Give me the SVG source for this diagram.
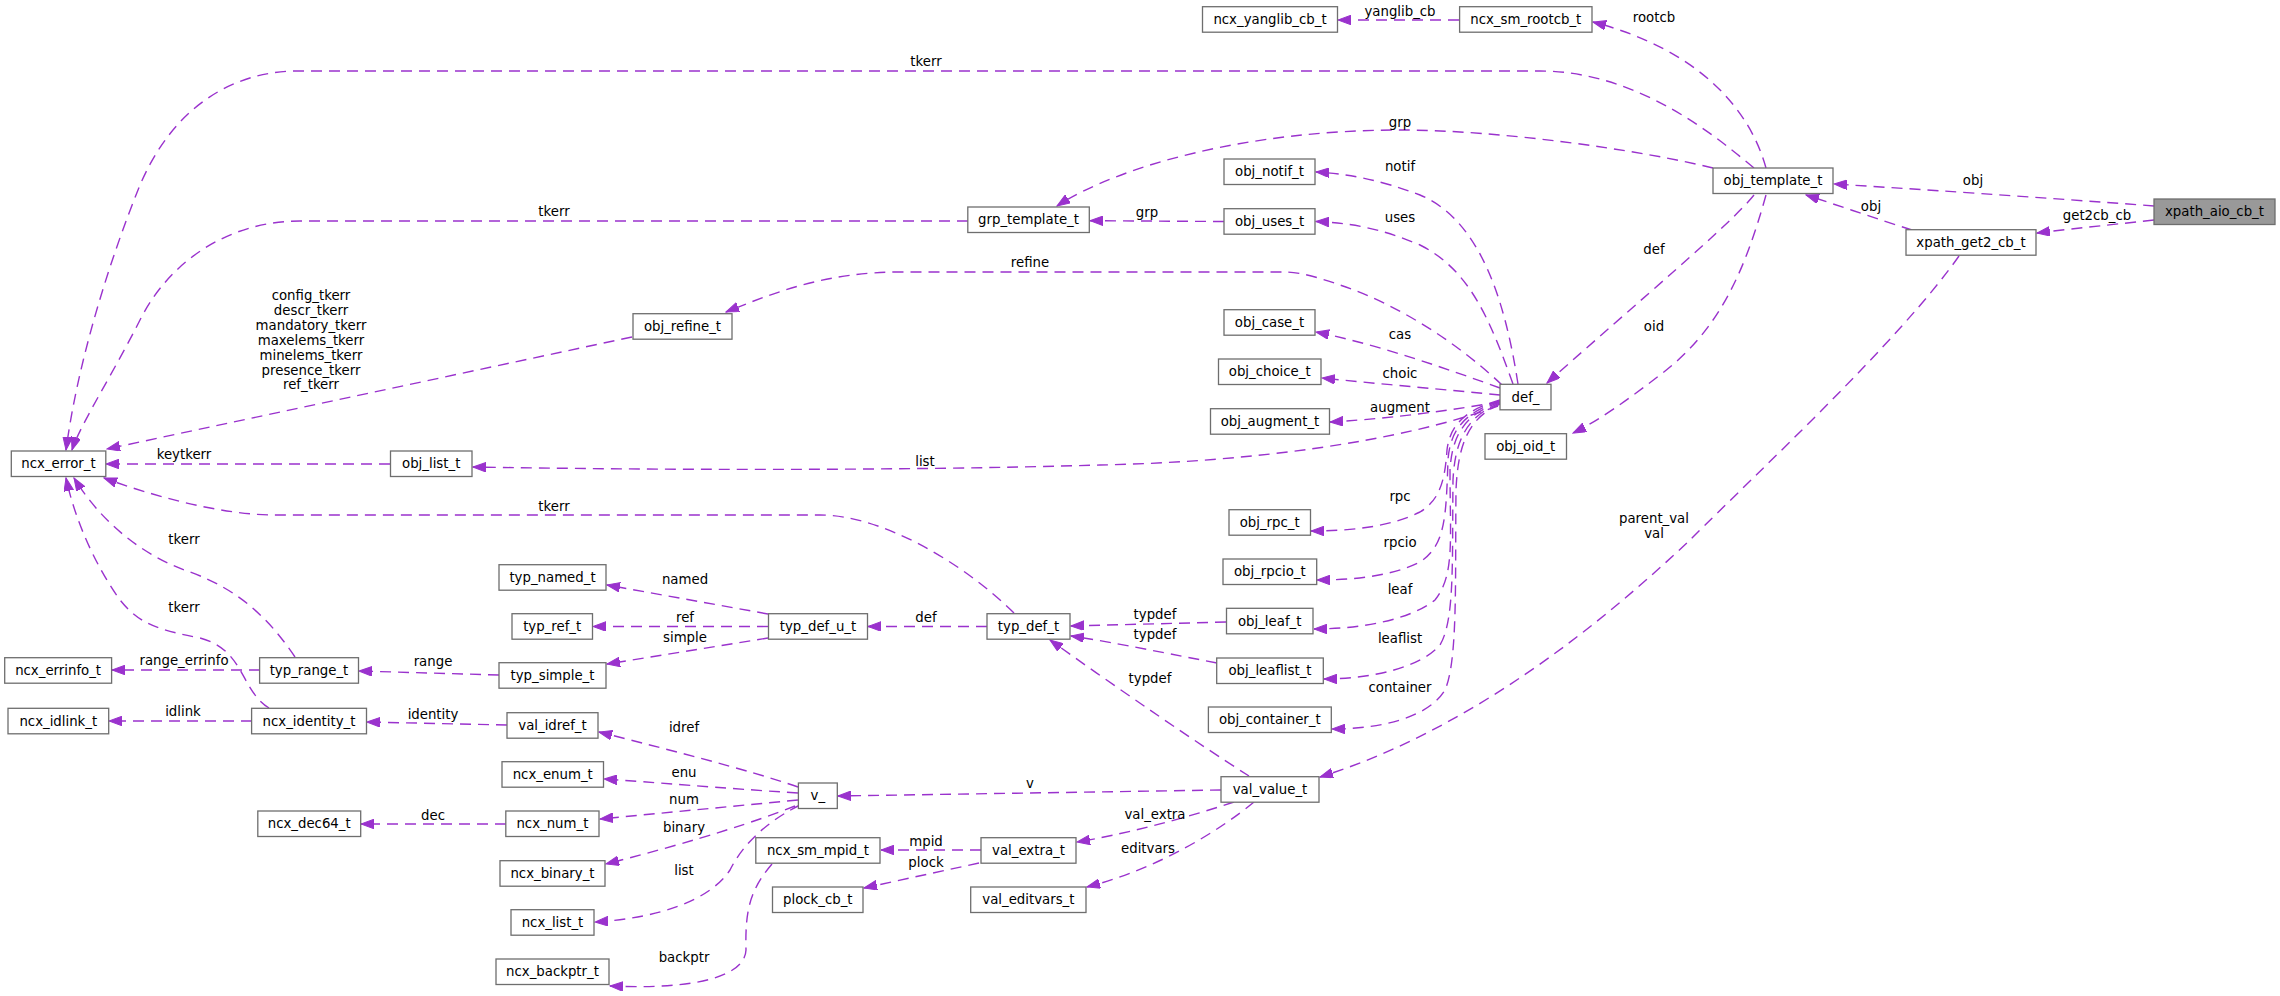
<svg xmlns="http://www.w3.org/2000/svg" width="2280" height="996" viewBox="0 0 2280 996">
<style>
.n rect{fill:#ffffff;stroke:#6e6e6e;stroke-width:1.3}
.root rect{fill:#999999}
.n text,.lb{font-family:"DejaVu Sans","Liberation Sans",sans-serif;font-size:13.3px;fill:#000000;text-anchor:middle}
.e path{fill:none;stroke:#9a32cd;stroke-width:1.4;stroke-dasharray:11,7;marker-end:url(#ah)}
</style>
<defs>
<marker id="ah" markerUnits="userSpaceOnUse" markerWidth="14" markerHeight="10" refX="13" refY="4.8" orient="auto">
<path d="M0,0 L13,4.8 L0,9.6 z" fill="#9a32cd" stroke="#9a32cd" stroke-width="1"/>
</marker>
</defs>
<rect width="2280" height="996" fill="#ffffff"/>
<g id="connectors" class="e">
<path d="M2154,206 C2050,198 1900,188 1834,184"/>
<path d="M2154,220 C2100,226 2060,230 2037,233"/>
<path d="M1912,230 C1880,220 1840,206 1806,195"/>
<path d="M1959,256 C1900,340 1760,470 1690,540 C1600,625 1470,730 1320,777"/>
<path d="M1766,168 C1750,110 1700,50 1593,22"/>
<path d="M1754,168 C1720,140 1640,71 1540,71 L298,71 C230,71 170,110 138,190 C110,260 78,360 66,450"/>
<path d="M1713,168 C1640,150 1500,130 1400,130 C1250,130 1120,165 1057,206"/>
<path d="M968,221 L300,221 C230,221 170,260 140,320 C115,370 80,425 72,450"/>
<path d="M1014,613 C960,560 880,515 820,515 L275,515 C220,515 150,495 104,478"/>
<path d="M295,657 C270,620 240,590 190,572 C140,555 100,520 74,478"/>
<path d="M269,708 C240,690 245,650 200,638 C160,630 140,625 120,600 C95,565 75,520 66,478"/>
<path d="M260,670 L112,670"/>
<path d="M499,675 L359,671"/>
<path d="M252,721 L109,721"/>
<path d="M507,725 L367,722"/>
<path d="M506,824 L361,824"/>
<path d="M390,464 L106,464"/>
<path d="M632,337 L107,449"/>
<path d="M1498,406 C1400,442 1250,462 1100,465 C900,471 650,470 473,467"/>
<path d="M768,614 L607,585"/>
<path d="M768,626.5 L593,626.5"/>
<path d="M768,638 L607,664"/>
<path d="M987,626.5 L868,626.5"/>
<path d="M1226,622 L1071,626"/>
<path d="M1217,663 C1150,650 1100,640 1071,636"/>
<path d="M1249,776 C1200,745 1120,690 1050,640"/>
<path d="M1221,790 L838,796"/>
<path d="M1234,802 C1180,820 1120,835 1077,842"/>
<path d="M1254,802 C1220,830 1160,868 1087,887"/>
<path d="M981,850 L881,850"/>
<path d="M979,863 L864,888"/>
<path d="M798,787 C750,770 650,745 599,732"/>
<path d="M798,793 C720,788 650,782 604,779"/>
<path d="M798,800 L600,819"/>
<path d="M795,806 C760,820 700,840 606,864"/>
<path d="M800,805 C760,825 740,850 730,870 C710,900 660,918 595,922"/>
<path d="M772,864 C750,890 745,910 746,950 C745,975 700,990 610,986"/>
<path d="M1459,20 L1338,20"/>
<path d="M1224,221.5 L1090,220.7"/>
<path d="M1518,384 C1505,300 1480,220 1420,195 C1380,180 1350,174 1316,172"/>
<path d="M1513,384 C1490,320 1470,270 1420,245 C1380,228 1350,223 1316,221.5"/>
<path d="M1502,385 C1460,345 1400,305 1340,285 C1320,278 1300,272 1285,272 L900,272 C830,272 780,290 726,312"/>
<path d="M1500,388 C1450,370 1380,345 1316,332"/>
<path d="M1500,395 C1450,390 1380,384 1322,378"/>
<path d="M1500,402 C1450,410 1400,418 1330,422"/>
<path d="M1500,400 C1465,410 1450,425 1447,450 C1445,480 1440,500 1420,512 C1390,527 1350,531 1311,531"/>
<path d="M1500,401 C1465,412 1450,430 1448,460 C1446,520 1445,545 1420,562 C1390,577 1350,580 1317,580"/>
<path d="M1500,402 C1465,414 1452,435 1450,470 C1450,540 1455,575 1435,600 C1410,620 1360,629 1314,629"/>
<path d="M1500,403 C1467,416 1455,440 1453,480 C1452,560 1455,620 1440,645 C1420,668 1370,679 1324,679"/>
<path d="M1500,404 C1468,418 1458,445 1456,490 C1455,580 1458,660 1445,690 C1428,718 1380,729 1332,729"/>
<path d="M1754,195 C1730,225 1640,300 1547,383"/>
<path d="M1766,195 C1745,270 1720,330 1660,375 C1630,398 1600,420 1573,433"/>
</g>
<g id="labels">
<text class="lb" x="1973" y="185">obj</text>
<text class="lb" x="2097" y="220">get2cb_cb</text>
<text class="lb" x="1871" y="211">obj</text>
<text class="lb" x="1654" y="523">parent_val</text>
<text class="lb" x="1654" y="538">val</text>
<text class="lb" x="1654" y="22">rootcb</text>
<text class="lb" x="926" y="66">tkerr</text>
<text class="lb" x="1400" y="127">grp</text>
<text class="lb" x="554" y="216">tkerr</text>
<text class="lb" x="554" y="511">tkerr</text>
<text class="lb" x="184" y="544">tkerr</text>
<text class="lb" x="184" y="612">tkerr</text>
<text class="lb" x="184" y="665">range_errinfo</text>
<text class="lb" x="433" y="666">range</text>
<text class="lb" x="183" y="716">idlink</text>
<text class="lb" x="433" y="719">identity</text>
<text class="lb" x="433" y="820">dec</text>
<text class="lb" x="184" y="459">keytkerr</text>
<text class="lb" x="311" y="300">config_tkerr</text>
<text class="lb" x="311" y="315">descr_tkerr</text>
<text class="lb" x="311" y="330">mandatory_tkerr</text>
<text class="lb" x="311" y="344.5">maxelems_tkerr</text>
<text class="lb" x="311" y="359.5">minelems_tkerr</text>
<text class="lb" x="311" y="374.5">presence_tkerr</text>
<text class="lb" x="311" y="388.5">ref_tkerr</text>
<text class="lb" x="925" y="466">list</text>
<text class="lb" x="685" y="584">named</text>
<text class="lb" x="685" y="622">ref</text>
<text class="lb" x="685" y="642">simple</text>
<text class="lb" x="926" y="622">def</text>
<text class="lb" x="1155" y="619">typdef</text>
<text class="lb" x="1155" y="639">typdef</text>
<text class="lb" x="1150" y="683">typdef</text>
<text class="lb" x="1030" y="788">v</text>
<text class="lb" x="1155" y="819">val_extra</text>
<text class="lb" x="1148" y="853">editvars</text>
<text class="lb" x="926" y="846">mpid</text>
<text class="lb" x="926" y="867">plock</text>
<text class="lb" x="684" y="732">idref</text>
<text class="lb" x="684" y="777">enu</text>
<text class="lb" x="684" y="804">num</text>
<text class="lb" x="684" y="832">binary</text>
<text class="lb" x="684" y="875">list</text>
<text class="lb" x="684" y="962">backptr</text>
<text class="lb" x="1400" y="16">yanglib_cb</text>
<text class="lb" x="1147" y="217">grp</text>
<text class="lb" x="1400" y="171">notif</text>
<text class="lb" x="1400" y="222">uses</text>
<text class="lb" x="1030" y="267">refine</text>
<text class="lb" x="1400" y="339">cas</text>
<text class="lb" x="1400" y="378">choic</text>
<text class="lb" x="1400" y="412">augment</text>
<text class="lb" x="1400" y="501">rpc</text>
<text class="lb" x="1400" y="547">rpcio</text>
<text class="lb" x="1400" y="594">leaf</text>
<text class="lb" x="1400" y="643">leaflist</text>
<text class="lb" x="1400" y="692">container</text>
<text class="lb" x="1654" y="254">def</text>
<text class="lb" x="1654" y="331">oid</text>
</g>
<g id="xpath_aio_cb_t" class="n root"><rect x="2154" y="199" width="121" height="25.5"/><text x="2214.5" y="216.4">xpath_aio_cb_t</text></g>
<g id="obj_template_t" class="n"><rect x="1713" y="168" width="120" height="25.5"/><text x="1773" y="185.4">obj_template_t</text></g>
<g id="xpath_get2_cb_t" class="n"><rect x="1906" y="229.7" width="130" height="25.5"/><text x="1971" y="247.2">xpath_get2_cb_t</text></g>
<g id="ncx_yanglib_cb_t" class="n"><rect x="1202.5" y="6.7" width="135" height="25.5"/><text x="1270" y="24.2">ncx_yanglib_cb_t</text></g>
<g id="ncx_sm_rootcb_t" class="n"><rect x="1459.6" y="6.7" width="132.4" height="25.5"/><text x="1525.8" y="24.2">ncx_sm_rootcb_t</text></g>
<g id="grp_template_t" class="n"><rect x="967.8" y="207" width="121.5" height="25.5"/><text x="1028.5" y="224.4">grp_template_t</text></g>
<g id="obj_notif_t" class="n"><rect x="1224" y="159" width="91" height="25.5"/><text x="1269.5" y="176.4">obj_notif_t</text></g>
<g id="obj_uses_t" class="n"><rect x="1224" y="208.7" width="91" height="25.5"/><text x="1269.5" y="226.2">obj_uses_t</text></g>
<g id="obj_refine_t" class="n"><rect x="633" y="313.7" width="99" height="25.5"/><text x="682.5" y="331.2">obj_refine_t</text></g>
<g id="obj_case_t" class="n"><rect x="1224" y="309.7" width="91" height="25.5"/><text x="1269.5" y="327.2">obj_case_t</text></g>
<g id="obj_choice_t" class="n"><rect x="1218.5" y="359" width="102.5" height="25.5"/><text x="1269.7" y="376.4">obj_choice_t</text></g>
<g id="def_" class="n"><rect x="1500" y="384.3" width="51" height="25.5"/><text x="1525.5" y="401.7">def_</text></g>
<g id="obj_augment_t" class="n"><rect x="1210.5" y="408.7" width="119" height="25.5"/><text x="1270" y="426.2">obj_augment_t</text></g>
<g id="obj_oid_t" class="n"><rect x="1485" y="433.7" width="81.5" height="25.5"/><text x="1525.7" y="451.2">obj_oid_t</text></g>
<g id="ncx_error_t" class="n"><rect x="11.3" y="451" width="94.5" height="25.5"/><text x="58.5" y="468.4">ncx_error_t</text></g>
<g id="obj_list_t" class="n"><rect x="390.5" y="451" width="81.5" height="25.5"/><text x="431.2" y="468.4">obj_list_t</text></g>
<g id="obj_rpc_t" class="n"><rect x="1229" y="509.7" width="81.5" height="25.5"/><text x="1269.7" y="527.2">obj_rpc_t</text></g>
<g id="obj_rpcio_t" class="n"><rect x="1223" y="559" width="93.7" height="25.5"/><text x="1269.8" y="576.4">obj_rpcio_t</text></g>
<g id="typ_named_t" class="n"><rect x="499" y="564.7" width="107" height="25.5"/><text x="552.5" y="582.2">typ_named_t</text></g>
<g id="typ_ref_t" class="n"><rect x="512" y="613.7" width="80.5" height="25.5"/><text x="552.2" y="631.2">typ_ref_t</text></g>
<g id="typ_def_u_t" class="n"><rect x="768.5" y="613.7" width="99" height="25.5"/><text x="818" y="631.2">typ_def_u_t</text></g>
<g id="typ_def_t" class="n"><rect x="987" y="613.7" width="83" height="25.5"/><text x="1028.5" y="631.2">typ_def_t</text></g>
<g id="obj_leaf_t" class="n"><rect x="1226.5" y="608.3" width="86.5" height="25.5"/><text x="1269.7" y="625.7">obj_leaf_t</text></g>
<g id="ncx_errinfo_t" class="n"><rect x="4.7" y="657.7" width="106.9" height="25.5"/><text x="58.1" y="675.2">ncx_errinfo_t</text></g>
<g id="typ_range_t" class="n"><rect x="259.6" y="657.7" width="98.9" height="25.5"/><text x="309" y="675.2">typ_range_t</text></g>
<g id="typ_simple_t" class="n"><rect x="499" y="662.7" width="107" height="25.5"/><text x="552.5" y="680.2">typ_simple_t</text></g>
<g id="obj_leaflist_t" class="n"><rect x="1216.7" y="658" width="106.6" height="25.5"/><text x="1270" y="675.4">obj_leaflist_t</text></g>
<g id="ncx_idlink_t" class="n"><rect x="8" y="708.3" width="100.7" height="25.5"/><text x="58.3" y="725.7">ncx_idlink_t</text></g>
<g id="ncx_identity_t" class="n"><rect x="251.6" y="708.3" width="114.9" height="25.5"/><text x="309" y="725.7">ncx_identity_t</text></g>
<g id="val_idref_t" class="n"><rect x="507" y="712.7" width="91" height="25.5"/><text x="552.5" y="730.2">val_idref_t</text></g>
<g id="obj_container_t" class="n"><rect x="1208.4" y="707" width="122.9" height="25.5"/><text x="1269.8" y="724.4">obj_container_t</text></g>
<g id="ncx_enum_t" class="n"><rect x="502" y="761.7" width="101.5" height="25.5"/><text x="552.7" y="779.2">ncx_enum_t</text></g>
<g id="v_" class="n"><rect x="798.4" y="783" width="38.9" height="25.5"/><text x="817.8" y="800.4">v_</text></g>
<g id="val_value_t" class="n"><rect x="1221" y="776.7" width="98" height="25.5"/><text x="1270" y="794.2">val_value_t</text></g>
<g id="ncx_dec64_t" class="n"><rect x="257.8" y="811" width="102.9" height="25.5"/><text x="309.2" y="828.4">ncx_dec64_t</text></g>
<g id="ncx_num_t" class="n"><rect x="505.8" y="811" width="93.2" height="25.5"/><text x="552.4" y="828.4">ncx_num_t</text></g>
<g id="ncx_sm_mpid_t" class="n"><rect x="755.8" y="837.7" width="124.2" height="25.5"/><text x="818" y="855.2">ncx_sm_mpid_t</text></g>
<g id="val_extra_t" class="n"><rect x="981" y="837.7" width="95" height="25.5"/><text x="1028.5" y="855.2">val_extra_t</text></g>
<g id="ncx_binary_t" class="n"><rect x="500" y="860.7" width="105" height="25.5"/><text x="552.5" y="878.2">ncx_binary_t</text></g>
<g id="plock_cb_t" class="n"><rect x="772.5" y="887" width="90.5" height="25.5"/><text x="817.8" y="904.4">plock_cb_t</text></g>
<g id="val_editvars_t" class="n"><rect x="970.7" y="887" width="115.3" height="25.5"/><text x="1028.4" y="904.4">val_editvars_t</text></g>
<g id="ncx_list_t" class="n"><rect x="511" y="909.7" width="83" height="25.5"/><text x="552.5" y="927.2">ncx_list_t</text></g>
<g id="ncx_backptr_t" class="n"><rect x="496" y="959" width="113" height="25.5"/><text x="552.5" y="976.4">ncx_backptr_t</text></g>
</svg>
